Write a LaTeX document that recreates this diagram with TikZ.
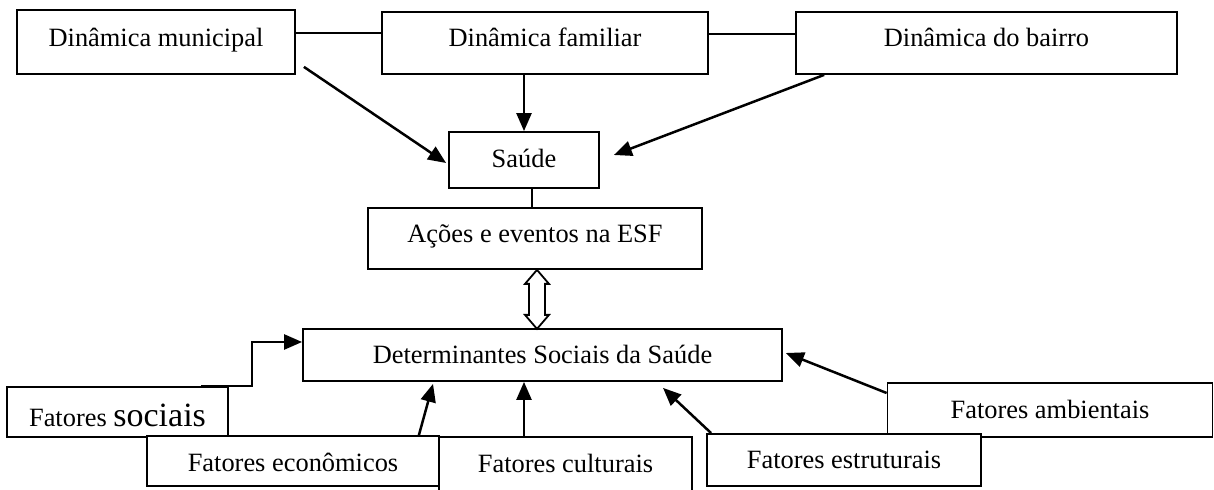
\documentclass[tikz,border=0pt]{standalone}
\usepackage{fontspec}
\setmainfont{Liberation Serif}
\usepackage{tikz}
\usetikzlibrary{arrows.meta, calc}

\begin{document}
\begin{tikzpicture}[
            x=0.5pt, y=-0.5pt, % units of the page, y going down
            box/.style={draw, fill=white, line width=0.9pt, inner sep=0pt, font=\fontsize{13.2}{16}\selectfont, text height=10pt, text depth=1pt}, % Word-like boxes
            arr/.style={line width=1.25pt, -{Triangle[length=9pt, width=7.5pt]}}, % Solid arrows
            link/.style={line width=0.9pt} % Plain lines
            ]
        \clip (0,0) rectangle (1214,490);

            % Top row
            \node[box, minimum width=139pt, minimum height=32pt, text depth=5pt] (mun) at (156,42) {Dinâmica municipal};
            \node[box, minimum width=163pt, minimum height=31pt, text depth=6pt] (fam) at (545,43) {Dinâmica familiar};
            \node[box, minimum width=190.5pt, minimum height=31pt, text depth=6pt] (bai) at (986.5,43) {Dinâmica do bairro};

            % Middle column
            \node[box, minimum width=75pt, minimum height=28pt, text depth=2pt] (saude) at (524,160) {Saúde};
            \node[box, minimum width=167pt, minimum height=30.5pt, text depth=5.5pt] (acoes) at (535,238.5) {Ações e eventos na ESF};
            \node[box, minimum width=239.5pt, minimum height=26pt] (det) at (542.5,355) {Determinantes Sociais da Saúde};

            % Factors at the bottom
            \node[box, minimum width=110.5pt, minimum height=25pt, text height=16pt] (soc) at (117.5,412) {Fatores {\fontsize{17}{20}\selectfont sociais}};
            \node[box, minimum width=146pt, minimum height=25pt, text height=12pt] (eco) at (293,461) {Fatores econômicos};
            \node[box, minimum width=126.5pt, minimum height=31.5pt, text depth=5.5pt] (cul) at (565.5,468.5) {Fatores culturais};
            \node[box, minimum width=162.5pt, minimum height=27pt] (amb) at (1050,410) {Fatores ambientais};
            \node[box, minimum width=137pt, minimum height=26pt] (est) at (844,460) {Fatores estruturais};

            % Lines between the top boxes
            \draw[link] ($(mun.east)+(0,-9)$) coordinate (m1) -- (m1 -| fam.west);
            \draw[link] ($(fam.east)+(0,-9)$) coordinate (f1) -- (f1 -| bai.west);

            % Into Saude
            \draw[arr] ($(mun.south east)+(8,-8)$) -- ($(saude.west)+(-2,3)$);
            \draw[arr] (fam.south -| saude.north) -- (saude.north);
            \draw[arr] ($(bai.south west)+(29,0)$) -- ($(saude.east)+(14,-5)$);
            \draw[link] ($(saude.south)+(8,0)$) coordinate (s1) -- (s1 |- acoes.north);

            % Hollow double arrow
            \draw[link, fill=white] ($(acoes.south)+(2,0)$) coordinate (d1) -- ++(12,14) -- ++(-4,0) -- ++(0,31) -- ++(4,0) -- ++(-12,14) -- ++(-12,-14) -- ++(4,0) -- ++(0,-31) -- ++(-4,0) -- cycle;

            % Factors into the determinants
            \draw[arr] ($(soc.north east)+(-28,0)$) -- ++(51,0) |- ($(det.west)+(0,-13)$);
            \draw[arr] ($(eco.north east)+(-21,0)$) -- ($(det.south)+(-109.5,2)$);
            \draw[arr] ($(cul.north)+(-41.5,0)$) coordinate (c1) -- (c1 |- det.south);
            \draw[arr] ($(est.north west)+(5,0)$) -- ($(det.south)+(120.5,6)$);
            \draw[arr] ($(amb.west)+(0,-17)$) -- ($(det.east)+(3,-2)$);

        \end{tikzpicture}
\end{document}
